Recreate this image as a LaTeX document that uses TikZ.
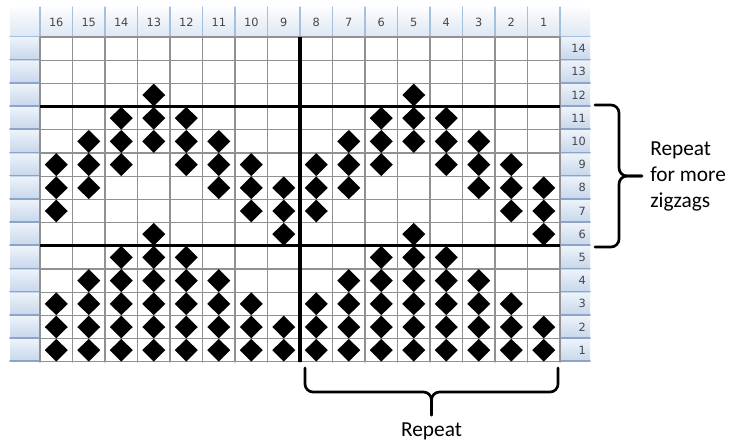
\documentclass[tikz,border=0pt]{standalone}
\usepackage{fontspec}
\setmainfont{Carlito}
\newfontfamily\cellfont{DejaVu Sans}

\definecolor{gridgray}{RGB}{145,145,145}
\definecolor{headtop}{RGB}{252,253,254}
\definecolor{headbot}{RGB}{222,231,243}
\definecolor{headedge}{RGB}{165,192,222}
\definecolor{sidetop}{RGB}{238,243,250}
\definecolor{sidebot}{RGB}{198,214,235}
\definecolor{sideedge}{RGB}{140,165,198}
\definecolor{numgray}{RGB}{70,70,70}

\begin{document}
\begin{tikzpicture}[x=0.75pt,y=-0.75pt,line cap=round,line join=round,
    gridline/.style={draw=gridgray,line width=0.9pt},
    thickline/.style={line width=2.5pt,line cap=butt},
    bracket/.style={line width=2pt,rounded corners=6pt},
    colnum/.style={font=\cellfont\fontsize{8.5}{9}\selectfont,text=numgray,inner sep=0pt},
    labeltext/.style={font=\fontsize{16}{19.5}\selectfont,inner sep=0pt}]
        \useasboundingbox (0,0) rectangle (737,443);

        % Cabeceras
        \shade[top color=headtop,bottom color=headbot] (10,7) rectangle (590,37);
        \foreach \i in {0,...,16}
            \draw[headedge,line width=0.8pt] ({40+\i*32.5},7) -- ({40+\i*32.5},37);
        \draw[headedge,line width=0.8pt] (10,37) -- (590,37);
        \foreach \r in {1,...,14} {
            \shade[top color=sidetop,bottom color=sidebot]
                (10,{37+(14-\r)*23.2}) rectangle (40,{37+(15-\r)*23.2});
            \shade[top color=sidetop,bottom color=sidebot]
                (560,{37+(14-\r)*23.2}) rectangle (590,{37+(15-\r)*23.2});
            \draw[sideedge,line width=1.2pt] (10,{37+(15-\r)*23.2-0.6}) -- (40,{37+(15-\r)*23.2-0.6});
            \draw[sideedge,line width=1.2pt] (560,{37+(15-\r)*23.2-0.6}) -- (590,{37+(15-\r)*23.2-0.6});
            \node[colnum,anchor=east] (fila\r) at (586,{37+(14.5-\r)*23.2}) {\r};
        }
        \foreach \k in {1,...,16}
            \node[colnum] (col\k) at ({40+(16.5-\k)*32.5},22.5) {\k};

        % Cuadricula
        \fill[white] (40,37) rectangle (560,362);
        \foreach \i in {0,...,16}
            \draw[gridline] ({40+\i*32.5},37) -- ({40+\i*32.5},362);
        \foreach \j in {0,...,14}
            \draw[gridline] (40,{37+\j*23.2}) -- (560,{37+\j*23.2});

        % Rombos: el mismo motivo en las dos mitades
        \foreach \r/\cols in {12/{5},11/{4,5,6},10/{3,4,5,6,7},9/{2,3,4,6,7,8},
                8/{1,2,3,7,8},7/{1,2,8},6/{1,5},5/{4,5,6},4/{3,4,5,6,7},
                3/{2,3,4,5,6,7,8},2/{1,2,3,4,5,6,7,8},1/{1,2,3,4,5,6,7,8}}
            \foreach \c in \cols
                \foreach \o in {0,8}
                    \fill ({40+(16.5-\c-\o)*32.5},{37+(14.5-\r)*23.2})
                        +(-11.5,0) -- +(0,-11.4) -- +(11.5,0) -- +(0,11.4) -- cycle;

        % Lineas de repeticion
        \draw[thickline] (40,106.6) -- (560,106.6);
        \draw[thickline] (40,245.8) -- (560,245.8);
        \draw[thickline] (300,37) -- (300,362);

        % Llave derecha
        \coordinate (LA) at (595,105);
        \coordinate (LB) at (595,247);
        \coordinate (LP) at (642,176);
        \draw[bracket] (LA) -- (619,105) -- (619,176) -- (LP);
        \draw[bracket] (LB) -- (619,247) -- (619,176) -- (LP);
        \node[labeltext,anchor=west,align=left] (repiteder) at (650,176)
            {Repeat\\for more\\zigzags};

        % Llave inferior
        \coordinate (BA) at (305,368);
        \coordinate (BB) at (558,368);
        \coordinate (BP) at (431.5,415);
        \draw[bracket] (BA) -- (305,392) -- (431.5,392) -- (BP);
        \draw[bracket] (BB) -- (558,392) -- (431.5,392) -- (BP);
        \node[labeltext,anchor=base] (repiteinf) at (431.5,436) {Repeat};

    \end{tikzpicture}
\end{document}
